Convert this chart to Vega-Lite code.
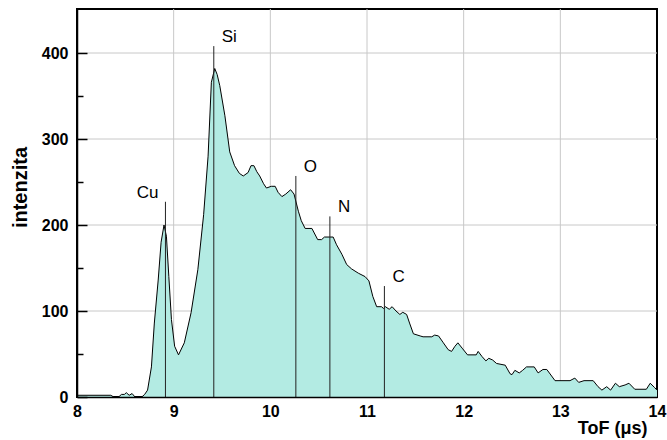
{
  "$schema": "https://vega.github.io/schema/vega-lite/v6.json",
  "width": 580,
  "height": 388,
  "autosize": {"type": "none"},
  "padding": {"left": 77, "top": 9, "right": 10, "bottom": 43},
  "background": "#ffffff",
  "config": {
    "view": {"stroke": "#000000", "strokeWidth": 2},
    "font": "Liberation Sans",
    "axis": {"grid": false}
  },
  "resolve": {"axis": {"y": "independent"}},
  "datasets": {
    "xgrid": [{"tof": 9}, {"tof": 10}, {"tof": 11}, {"tof": 12}, {"tof": 13}],
    "ygrid": [{"intensity": 100}, {"intensity": 200}, {"intensity": 300}, {"intensity": 400}],
    "spectrum": [
      {"tof": 8.0, "intensity": 2}, {"tof": 8.35, "intensity": 2}, {"tof": 8.38, "intensity": 0},
      {"tof": 8.43, "intensity": 0}, {"tof": 8.46, "intensity": 3}, {"tof": 8.49, "intensity": 3},
      {"tof": 8.51, "intensity": 5}, {"tof": 8.54, "intensity": 2}, {"tof": 8.57, "intensity": 4},
      {"tof": 8.6, "intensity": 0}, {"tof": 8.67, "intensity": 0}, {"tof": 8.7, "intensity": 3},
      {"tof": 8.73, "intensity": 8}, {"tof": 8.77, "intensity": 35}, {"tof": 8.8, "intensity": 86},
      {"tof": 8.84, "intensity": 136}, {"tof": 8.87, "intensity": 180}, {"tof": 8.9, "intensity": 200},
      {"tof": 8.925, "intensity": 187}, {"tof": 8.95, "intensity": 140}, {"tof": 8.977, "intensity": 90},
      {"tof": 9.01, "intensity": 59}, {"tof": 9.05, "intensity": 49}, {"tof": 9.11, "intensity": 63},
      {"tof": 9.18, "intensity": 98}, {"tof": 9.25, "intensity": 148}, {"tof": 9.31, "intensity": 212},
      {"tof": 9.356, "intensity": 280}, {"tof": 9.39, "intensity": 366}, {"tof": 9.425, "intensity": 382},
      {"tof": 9.45, "intensity": 375}, {"tof": 9.477, "intensity": 362}, {"tof": 9.53, "intensity": 327},
      {"tof": 9.58, "intensity": 285}, {"tof": 9.63, "intensity": 269}, {"tof": 9.68, "intensity": 260},
      {"tof": 9.72, "intensity": 257}, {"tof": 9.77, "intensity": 261}, {"tof": 9.8, "intensity": 269},
      {"tof": 9.83, "intensity": 269}, {"tof": 9.86, "intensity": 262}, {"tof": 9.89, "intensity": 257},
      {"tof": 9.93, "intensity": 248}, {"tof": 9.96, "intensity": 243}, {"tof": 10.01, "intensity": 245},
      {"tof": 10.05, "intensity": 245}, {"tof": 10.08, "intensity": 238}, {"tof": 10.12, "intensity": 233},
      {"tof": 10.16, "intensity": 236}, {"tof": 10.21, "intensity": 241}, {"tof": 10.245, "intensity": 236},
      {"tof": 10.29, "intensity": 216}, {"tof": 10.32, "intensity": 205}, {"tof": 10.36, "intensity": 196},
      {"tof": 10.43, "intensity": 196}, {"tof": 10.49, "intensity": 183}, {"tof": 10.53, "intensity": 183},
      {"tof": 10.56, "intensity": 186}, {"tof": 10.65, "intensity": 186}, {"tof": 10.685, "intensity": 177},
      {"tof": 10.74, "intensity": 166}, {"tof": 10.79, "intensity": 154}, {"tof": 10.84, "intensity": 149},
      {"tof": 10.91, "intensity": 144}, {"tof": 10.98, "intensity": 140}, {"tof": 11.02, "intensity": 135},
      {"tof": 11.06, "intensity": 117}, {"tof": 11.1, "intensity": 105}, {"tof": 11.15, "intensity": 105},
      {"tof": 11.17, "intensity": 103}, {"tof": 11.19, "intensity": 105}, {"tof": 11.23, "intensity": 102},
      {"tof": 11.26, "intensity": 105}, {"tof": 11.3, "intensity": 100}, {"tof": 11.34, "intensity": 96},
      {"tof": 11.37, "intensity": 98.5}, {"tof": 11.41, "intensity": 96}, {"tof": 11.44, "intensity": 86},
      {"tof": 11.48, "intensity": 73.5}, {"tof": 11.55, "intensity": 71}, {"tof": 11.58, "intensity": 70},
      {"tof": 11.67, "intensity": 70}, {"tof": 11.7, "intensity": 72}, {"tof": 11.74, "intensity": 71},
      {"tof": 11.79, "intensity": 63}, {"tof": 11.84, "intensity": 55}, {"tof": 11.875, "intensity": 53},
      {"tof": 11.91, "intensity": 59}, {"tof": 11.94, "intensity": 63}, {"tof": 11.99, "intensity": 56},
      {"tof": 12.04, "intensity": 49}, {"tof": 12.13, "intensity": 49}, {"tof": 12.15, "intensity": 53},
      {"tof": 12.19, "intensity": 47}, {"tof": 12.23, "intensity": 42}, {"tof": 12.26, "intensity": 45},
      {"tof": 12.3, "intensity": 43}, {"tof": 12.34, "intensity": 39}, {"tof": 12.43, "intensity": 37},
      {"tof": 12.48, "intensity": 27}, {"tof": 12.5, "intensity": 26}, {"tof": 12.53, "intensity": 31},
      {"tof": 12.575, "intensity": 28}, {"tof": 12.61, "intensity": 31}, {"tof": 12.65, "intensity": 35},
      {"tof": 12.73, "intensity": 35}, {"tof": 12.77, "intensity": 28}, {"tof": 12.82, "intensity": 32},
      {"tof": 12.86, "intensity": 32}, {"tof": 12.945, "intensity": 19}, {"tof": 13.1, "intensity": 19},
      {"tof": 13.15, "intensity": 22}, {"tof": 13.19, "intensity": 17}, {"tof": 13.245, "intensity": 19},
      {"tof": 13.34, "intensity": 19}, {"tof": 13.39, "intensity": 12}, {"tof": 13.43, "intensity": 8},
      {"tof": 13.48, "intensity": 12}, {"tof": 13.52, "intensity": 8}, {"tof": 13.57, "intensity": 16},
      {"tof": 13.61, "intensity": 12}, {"tof": 13.67, "intensity": 14}, {"tof": 13.71, "intensity": 16},
      {"tof": 13.77, "intensity": 9}, {"tof": 13.89, "intensity": 9}, {"tof": 13.93, "intensity": 16},
      {"tof": 13.975, "intensity": 11}, {"tof": 14.0, "intensity": 8}
    ],
    "elements": [
      {"element": "Cu", "tof": 8.915, "top": 227},
      {"element": "Si", "tof": 9.415, "top": 408},
      {"element": "O", "tof": 10.264, "top": 257},
      {"element": "N", "tof": 10.616, "top": 210},
      {"element": "C", "tof": 11.18, "top": 129}
    ]
  },
  "layer": [
    {
      "data": {"name": "xgrid"},
      "mark": {"type": "rule", "color": "#c8c8c8", "strokeWidth": 1},
      "encoding": {
        "x": {"field": "tof", "type": "quantitative"}
      }
    },
    {
      "data": {"name": "ygrid"},
      "mark": {"type": "rule", "color": "#c8c8c8", "strokeWidth": 1},
      "encoding": {
        "y": {"field": "intensity", "type": "quantitative", "axis": null}
      }
    },
    {
      "data": {"name": "spectrum"},
      "mark": {"type": "area", "color": "#b3ebe3", "opacity": 1, "line": {"color": "#000000", "strokeWidth": 1}},
      "encoding": {
        "x": {
          "field": "tof", "type": "quantitative",
          "scale": {"domain": [8, 14], "nice": false, "zero": false},
          "axis": {
            "zindex": 1,
            "values": [8, 9, 10, 11, 12, 13, 14],
            "format": "d",
            "title": "ToF (\u03bcs)",
            "titleFont": "Liberation Sans", "titleFontSize": 18, "titleFontWeight": "bold", "titleColor": "#000",
            "titleAnchor": "end", "titleAlign": "right", "titleBaseline": "middle", "titleX": 570, "titleY": 31,
            "labelFont": "Liberation Sans", "labelFontSize": 16, "labelFontWeight": "bold", "labelColor": "#000",
            "labelPadding": 6, "labelFlush": false, "labelOverlap": false,
            "ticks": false,
            "domainColor": "#000", "domainWidth": 1.5,
            "grid": false
          }
        },
        "y": {
          "field": "intensity", "type": "quantitative",
          "scale": {"domain": [0, 451.163], "nice": false},
          "axis": {
            "zindex": 1,
            "orient": "left",
            "values": [0, 100, 200, 300, 400],
            "title": "intenzita",
            "titleFont": "Liberation Sans", "titleFontSize": 20, "titleFontWeight": "bold", "titleColor": "#000",
            "titleAngle": 270, "titleAlign": "center", "titleBaseline": "middle", "titleX": -57, "titleY": 178,
            "labelFont": "Liberation Sans", "labelFontSize": 16, "labelFontWeight": "bold", "labelColor": "#000",
            "labelPadding": 19, "labelFlush": false, "labelOverlap": false,
            "tickColor": "#000", "tickWidth": 1.5, "tickSize": -10,
            "domainColor": "#000", "domainWidth": 1.5,
            "grid": false
          }
        }
      }
    },
    {
      "data": {"name": "elements"},
      "mark": {"type": "rule", "color": "#222222", "strokeWidth": 1},
      "encoding": {
        "x": {"field": "tof", "type": "quantitative"},
        "y": {
          "field": "top", "type": "quantitative",
          "axis": {
            "zindex": 1,
            "orient": "left",
            "values": [50, 150, 250, 350],
            "title": null,
            "labels": false,
            "domain": false,
            "grid": false,
            "ticks": true, "tickColor": "#000", "tickWidth": 1.5, "tickSize": -6
          }
        },
        "y2": {"datum": 0}
      }
    },
    {
      "data": {"name": "elements"},
      "transform": [{"filter": "datum.element !== 'Cu'"}],
      "mark": {"type": "text", "align": "left", "baseline": "middle", "dx": 8, "dy": -9, "font": "Liberation Sans", "fontSize": 17, "color": "#000"},
      "encoding": {
        "x": {"field": "tof", "type": "quantitative"},
        "y": {"field": "top", "type": "quantitative", "axis": null},
        "text": {"field": "element", "type": "nominal"}
      }
    },
    {
      "data": {"name": "elements"},
      "transform": [{"filter": "datum.element === 'Cu'"}],
      "mark": {"type": "text", "align": "right", "baseline": "middle", "dx": -7, "dy": -9, "font": "Liberation Sans", "fontSize": 17, "color": "#000"},
      "encoding": {
        "x": {"field": "tof", "type": "quantitative"},
        "y": {"field": "top", "type": "quantitative", "axis": null},
        "text": {"field": "element", "type": "nominal"}
      }
    }
  ]
}
